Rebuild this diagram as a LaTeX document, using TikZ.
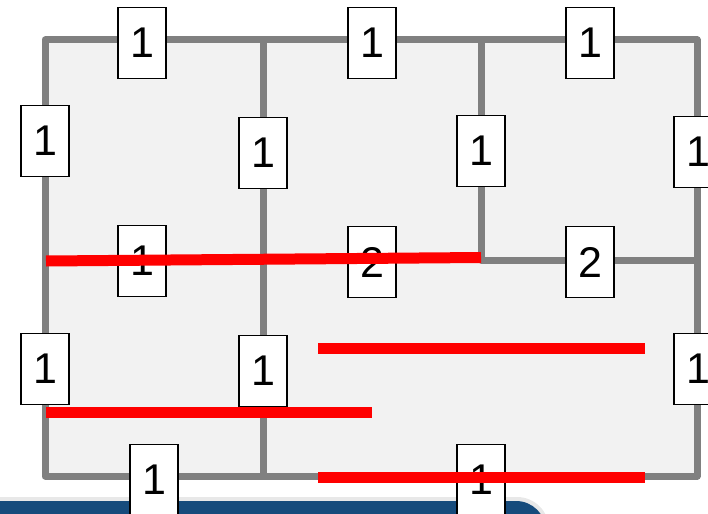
\documentclass[tikz,border=0pt]{standalone}
\usepackage{fontspec}
\setmainfont{Liberation Sans}
\definecolor{wallgray}{HTML}{808080}
\definecolor{roomfill}{HTML}{F2F2F2}
\definecolor{barblue}{HTML}{164B7C}
\definecolor{redline}{HTML}{FF0000}
\begin{document}
\begin{tikzpicture}[x=1pt,y=-1pt,
  wall/.style={draw=wallgray,line width=7pt,line join=round},
  numbox/.style={draw=black,fill=white,line width=1.6pt,minimum width=48pt,minimum height=71pt,inner sep=0pt,font=\fontsize{43}{43}\selectfont},
  redbar/.style={draw=redline,line width=11pt}]
\useasboundingbox (0,0) rectangle (708,513);
\clip (0,0) rectangle (708,513);
% rooms
\fill[roomfill] (45,40) rectangle (697,476);
\draw[wall] (45,40) rectangle (697,476);
\draw[wall] (263,40) -- (263,476);
\draw[wall] (481,40) -- (481,260) -- (697,260);
% blue bar at bottom
\fill[black!15,opacity=0.6] (-20,497) [rounded corners=32pt] -- (549,497) -- (549,560) [sharp corners] -- (-20,560) -- cycle;
\fill[barblue] (-20,501) [rounded corners=30pt] -- (546,501) -- (546,560) [sharp corners] -- (-20,560) -- cycle;
% number boxes
\node[numbox] (t1) at (142,43) {1};
\node[numbox] (t2) at (372,43) {1};
\node[numbox] (t3) at (590,43) {1};
\node[numbox] (l1) at (45,141) {1};
\node[numbox] (v1) at (263,153) {1};
\node[numbox] (v2) at (481,151) {1};
\node[numbox] (r1) at (698,152) {1};
\node[numbox] (m1) at (142,261) {1};
\node[numbox] (m2) at (372,262) {2};
\node[numbox] (m3) at (590,262) {2};
\node[numbox] (l2) at (45,369) {1};
\node[numbox] (v3) at (263,371) {1};
\node[numbox] (r2) at (698,369) {1};
\node[numbox] (b1) at (154,480) {1};
\node[numbox] (b2) at (481,480) {1};
% red lines
\coordinate (a1) at (46,261);
\coordinate (a2) at (481,257.5);
\coordinate (c1) at (318,348);
\coordinate (c2) at (645,348);
\coordinate (d1) at (46,412);
\coordinate (d2) at (372,412);
\coordinate (e1) at (318,477);
\coordinate (e2) at (645,477);
\draw[redbar] (a1) -- (a2);
\draw[redbar] (c1) -- (c2);
\draw[redbar] (d1) -- (d2);
\draw[redbar] (e1) -- (e2);
\end{tikzpicture}
\end{document}
